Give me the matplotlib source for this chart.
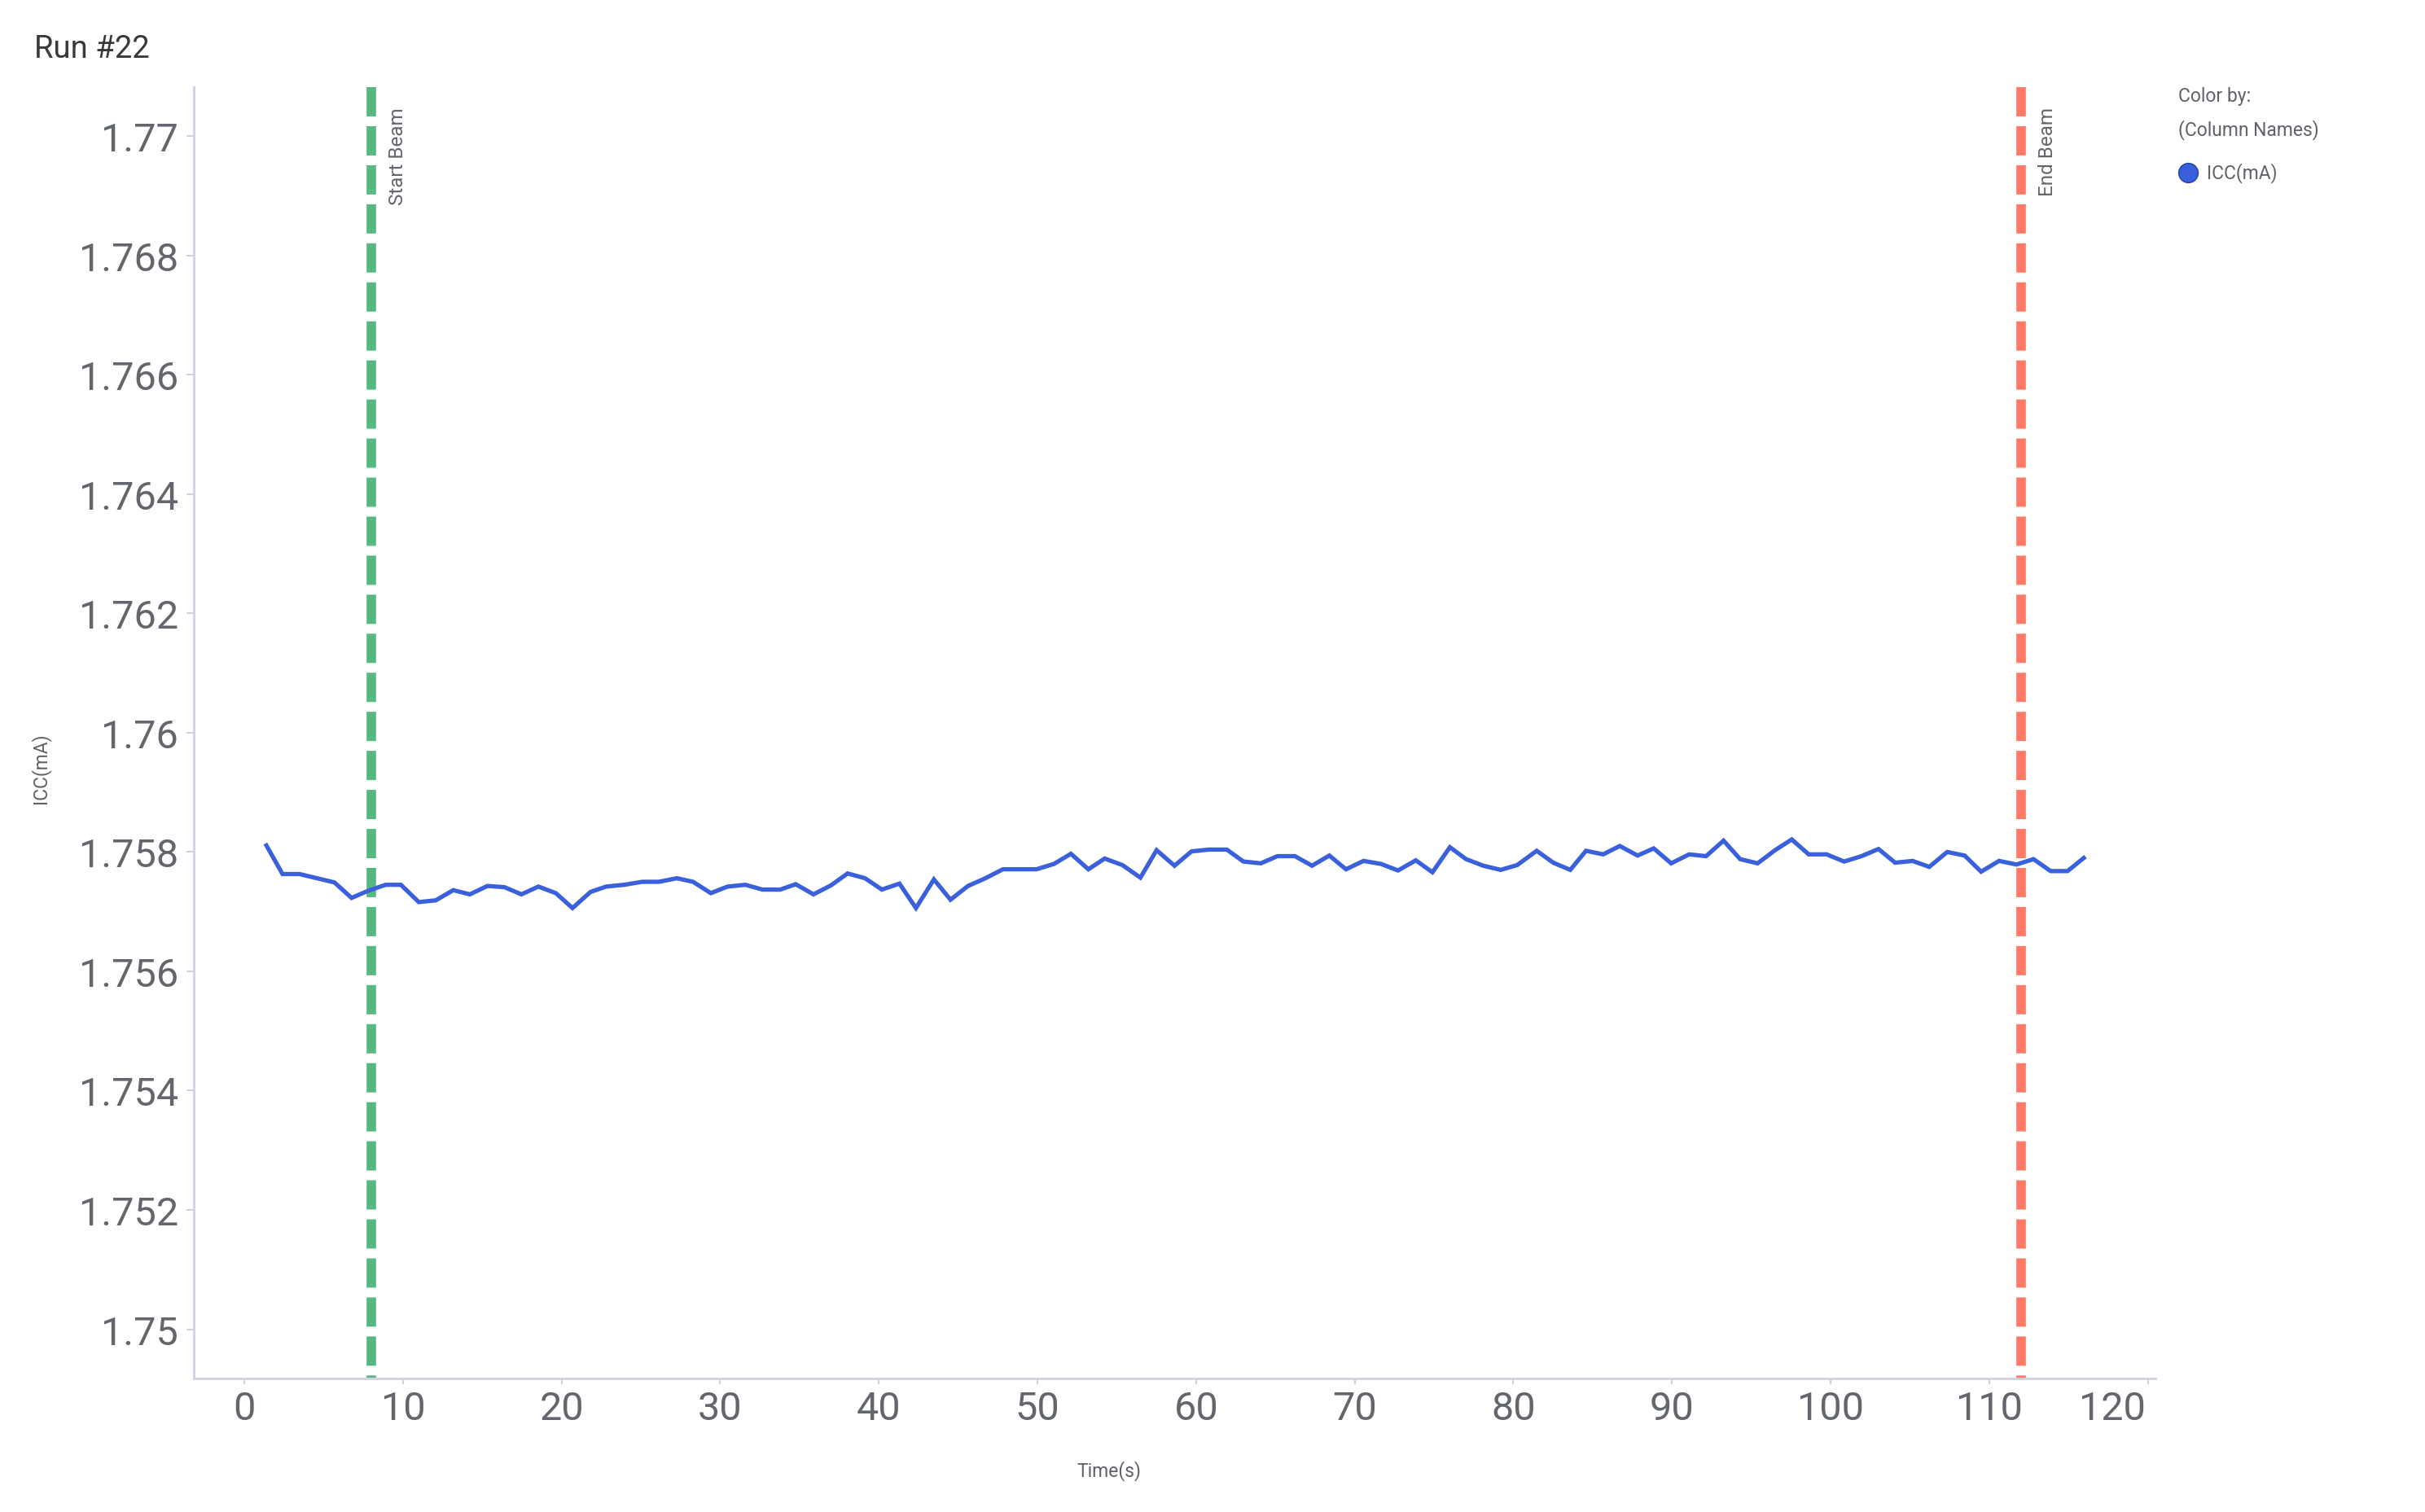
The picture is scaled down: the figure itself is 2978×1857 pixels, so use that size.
import matplotlib
matplotlib.use("Agg")
import matplotlib.pyplot as plt
from matplotlib.ticker import FixedLocator, FuncFormatter
from matplotlib.lines import Line2D
from matplotlib.transforms import ScaledTranslation

plt.rcParams['font.family'] = ['Roboto', 'DejaVu Sans']

# ---- data ----
time_s = [1.39, 2.41, 3.48, 4.58, 5.68, 6.76, 7.81, 8.91, 9.87, 11.00,
          12.07, 13.17, 14.22, 15.32, 16.40, 17.47, 18.54, 19.64, 20.69, 21.82,
          22.81, 23.94, 25.09, 26.14, 27.27, 28.29, 29.41, 30.46, 31.59, 32.66,
          33.79, 34.76, 35.88, 36.98, 38.03, 39.13, 40.19, 41.30, 42.34, 43.47,
          44.52, 45.62, 46.72, 47.82, 48.89, 49.94, 51.04, 52.11, 53.21, 54.24,
          55.36, 56.49, 57.51, 58.64, 59.71, 60.81, 61.94, 62.98, 64.08, 65.13,
          66.23, 67.31, 68.40, 69.45, 70.55, 71.65, 72.73, 73.85, 74.90, 76.00,
          77.02, 78.10, 79.20, 80.24, 81.47, 82.52, 83.59, 84.58, 85.66, 86.71,
          87.83, 88.85, 89.95, 91.08, 92.15, 93.25, 94.30, 95.40, 96.50, 97.55,
          98.62, 99.75, 100.85, 101.95, 103.02, 104.07, 105.17, 106.22, 107.35, 108.45,
          109.49, 110.62, 111.72, 112.79, 113.87, 114.94, 115.96]
icc_ma = [1.75811, 1.75763, 1.75763, 1.75756, 1.75749, 1.75723, 1.75735, 1.75745, 1.75745, 1.75716,
          1.75719, 1.75736, 1.75729, 1.75743, 1.75741, 1.75729, 1.75742, 1.75731, 1.75706, 1.75733,
          1.75742, 1.75745, 1.75750, 1.75750, 1.75756, 1.75750, 1.75731, 1.75742, 1.75745, 1.75737,
          1.75737, 1.75746, 1.75729, 1.75744, 1.75764, 1.75756, 1.75737, 1.75747, 1.75706, 1.75754,
          1.75720, 1.75743, 1.75756, 1.75771, 1.75771, 1.75771, 1.75780, 1.75797, 1.75771, 1.75789,
          1.75778, 1.75757, 1.75803, 1.75777, 1.75801, 1.75804, 1.75804, 1.75784, 1.75781, 1.75793,
          1.75793, 1.75777, 1.75794, 1.75771, 1.75785, 1.75780, 1.75769, 1.75786, 1.75766, 1.75808,
          1.75788, 1.75777, 1.75770, 1.75778, 1.75802, 1.75782, 1.75770, 1.75802, 1.75796, 1.75810,
          1.75794, 1.75806, 1.75781, 1.75796, 1.75793, 1.75819, 1.75788, 1.75781, 1.75803, 1.75821,
          1.75796, 1.75796, 1.75784, 1.75793, 1.75805, 1.75782, 1.75785, 1.75775, 1.75800, 1.75794,
          1.75767, 1.75785, 1.75779, 1.75788, 1.75768, 1.75768, 1.75790]

beam_times = [8.0, 112.0]
beam_labels = ["Start Beam", "End Beam"]
beam_colors = ["#57b881", "#ff7966"]

y_ticks = [1.75, 1.752, 1.754, 1.756, 1.758, 1.76, 1.762, 1.764, 1.766, 1.768, 1.77]
x_ticks = [0, 10, 20, 30, 40, 50, 60, 70, 80, 90, 100, 110, 120]

title = "Run #22"
x_label = "Time(s)"
y_label = "ICC(mA)"
legend_title = ["Color by:", "(Column Names)"]
series_name = "ICC(mA)"

# ---- styling ----
W, H = 2978, 1858
line_color = "#3a60dc"
spine_color = "#cfd3df"
tick_text = "#63666c"
label_text = "#5f6268"

fig = plt.figure(figsize=(W / 100, H / 100), dpi=100)
ax = fig.add_axes([237.7 / W, 1 - 1693.7 / H, (2647.0 - 237.7) / W, (1693.7 - 108.3) / H])

ax.plot(time_s, icc_ma, color=line_color, lw=3.8, solid_joinstyle='miter', zorder=3)

for bt, bl, bc in zip(beam_times, beam_labels, beam_colors):
    ln, = ax.plot([bt, bt], [1, 0], transform=ax.get_xaxis_transform(), color=bc,
                  lw=8.4, solid_capstyle='butt', dash_capstyle='butt', zorder=2)
    ln.set_dashes((3.08, 1.03))
    ax.annotate(bl, xy=(bt, 1), xycoords=('data', 'axes fraction'),
                xytext=(33, -24), textcoords='offset pixels', rotation=90,
                ha='center', va='top', fontsize=17.5, color=tick_text)

ax.set_xlim(-3.2, 120.48)
ax.set_ylim(1.74918, 1.770815)
ax.xaxis.set_major_locator(FixedLocator(x_ticks))
ax.yaxis.set_major_locator(FixedLocator(y_ticks))
ax.yaxis.set_major_formatter(FuncFormatter(lambda v, p: ('%.3f' % v).rstrip('0').rstrip('.')))

for s in ['top', 'right']:
    ax.spines[s].set_visible(False)
for s in ['left', 'bottom']:
    ax.spines[s].set_color(spine_color)
    ax.spines[s].set_linewidth(2)

ax.tick_params(axis='y', length=6.5, width=1.5, color=spine_color, labelsize=35,
               labelcolor=tick_text, pad=7)
ax.tick_params(axis='x', length=5, width=1.5, color=spine_color, labelsize=35,
               labelcolor=tick_text, pad=5)

# last x tick label is pulled inside the axis end, as in the reference
fig.canvas.draw()
last_lbl = ax.xaxis.get_major_ticks()[-1].label1
last_lbl.set_transform(last_lbl.get_transform() + ScaledTranslation(-0.44, 0, fig.dpi_scale_trans))

fig.text(42 / W, 1 - 70.7 / H, title, fontsize=27.5, fontweight='normal',
         color='#3a3a3a', ha='left', va='baseline')
fig.text(50 / W, 1 - 944 / H, y_label, rotation=90, fontsize=16.5, color=label_text,
         ha='center', va='center')
fig.text(1362 / W, 1 - 1813 / H, x_label, fontsize=16.5, color=label_text,
         ha='center', va='baseline')

fig.text(2675 / W, 1 - 119 / H, legend_title[0], fontsize=16.5, color=label_text,
         ha='left', va='center')
fig.text(2675 / W, 1 - 160 / H, legend_title[1], fontsize=16.5, color=label_text,
         ha='left', va='center')
fig.add_artist(Line2D([2687 / W], [1 - 213 / H], marker='o', markersize=17,
                      markerfacecolor='#3a5fdc', markeredgecolor='#2b47a8',
                      markeredgewidth=1.2, transform=fig.transFigure))
fig.text(2710 / W, 1 - 213 / H, series_name, fontsize=16.5, color=label_text,
         ha='left', va='center')

fig.savefig("out.png", dpi=100)
